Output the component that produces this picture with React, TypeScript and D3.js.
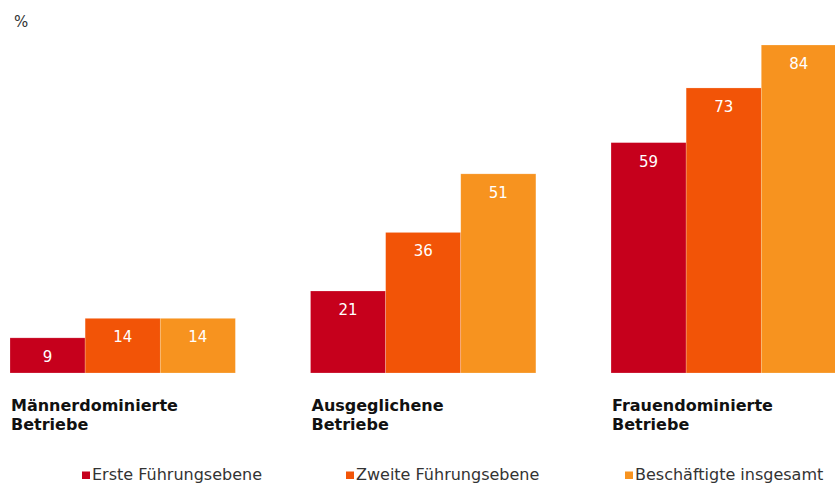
import React from "react";
import * as d3 from "d3";

const categories = [
  ["Männerdominierte", "Betriebe"],
  ["Ausgeglichene", "Betriebe"],
  ["Frauendominierte", "Betriebe"],
];
const seriesNames = ["Erste Führungsebene", "Zweite Führungsebene", "Beschäftigte insgesamt"];
const erste = [9, 21, 59];
const zweite = [14, 36, 73];
const gesamt = [14, 51, 84];
const colors = ["#C6001C", "#F25407", "#F7931F"];
const unitLabel = "%";

const W = 835;
const H = 484;

export default function App() {
  const seriesValues = [erste, zweite, gesamt];
  const catKeys = categories.map((c) => c.join(" "));
  const x0 = d3.scaleBand<string>().domain(catKeys).range([10, 836.4]).paddingInner(0.25).paddingOuter(0).align(0);
  const x1 = d3.scaleBand<string>().domain(seriesNames).range([0, x0.bandwidth()]).padding(0);
  const y = d3.scaleLinear().domain([0, 84]).range([373, 45]);
  const legendX = [82, 346, 625];

  return (
    <svg width={W} height={H} style={{ position: "absolute", left: 0, top: 0, display: "block" }}>
      <rect x={0} y={0} width={W} height={H} fill="#fff" />
      <text x={14} y={27} fontFamily="DejaVu Sans, Verdana, sans-serif" fontSize={15} fill="#333">
        {unitLabel}
      </text>
      {catKeys.map((ck, ci) => (
        <g key={ck} transform={`translate(${x0(ck)},0)`}>
          {seriesNames.map((s, si) => {
            const v = seriesValues[si][ci];
            const bx = x1(s)!;
            const bw = x1.bandwidth();
            return (
              <g key={s}>
                <rect
                  x={bx}
                  y={y(v)}
                  width={bw}
                  height={y(0) - y(v)}
                  fill={colors[si]}
                  stroke="#fff"
                  strokeOpacity={0.35}
                  strokeWidth={0.6}
                />
                <text
                  x={bx + bw / 2}
                  y={y(v) + 24}
                  textAnchor="middle"
                  fontFamily="DejaVu Sans, Verdana, sans-serif"
                  fontSize={15}
                  fill="#fff"
                >
                  {v}
                </text>
              </g>
            );
          })}
          <text
            x={1}
            y={411}
            fontFamily="DejaVu Sans, Verdana, sans-serif"
            fontWeight="bold"
            fontSize={16}
            fill="#111"
          >
            <tspan x={1}>{categories[ci][0]}</tspan>
            <tspan x={1} dy={19}>
              {categories[ci][1]}
            </tspan>
          </text>
        </g>
      ))}
      {seriesNames.map((s, si) => (
        <g key={s} transform={`translate(${legendX[si]},0)`}>
          <rect x={0} y={471.5} width={8} height={7.5} fill={colors[si]} />
          <text x={10} y={480} fontFamily="DejaVu Sans, sans-serif" fontSize={16} fill="#333">
            {s}
          </text>
        </g>
      ))}
    </svg>
  );
}
